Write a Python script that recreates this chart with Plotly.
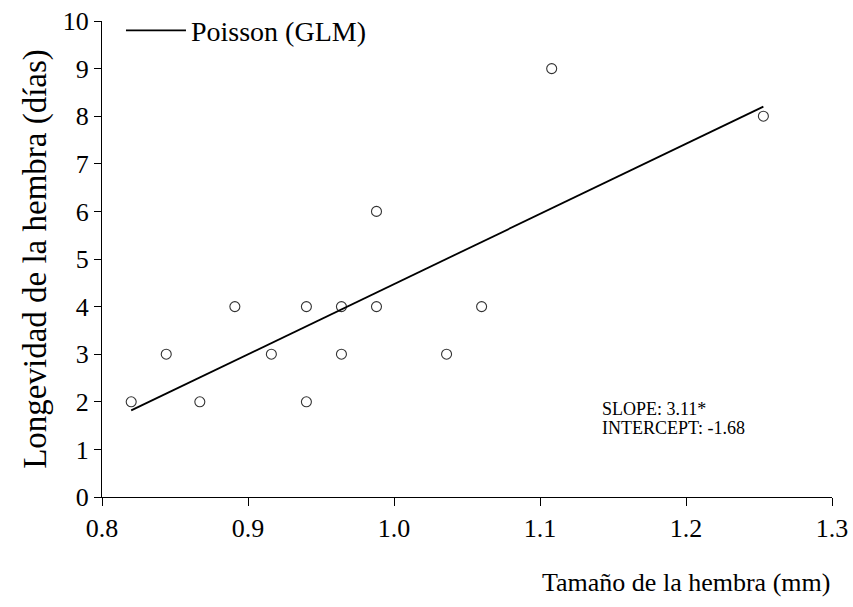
import plotly.graph_objects as go

# Data
size_mm = [0.820, 0.844, 0.867, 0.891, 0.916, 0.940, 0.940, 0.964, 0.964,
           0.988, 0.988, 1.036, 1.060, 1.108, 1.253]
longevity_days = [2, 3, 2, 4, 3, 4, 2, 4, 3, 6, 4, 3, 4, 9, 8]

fit_x = [0.820, 1.253]
fit_y = [1.82, 8.20]

x_ticks = [0.8, 0.9, 1.0, 1.1, 1.2, 1.3]
x_tick_labels = ["0.8", "0.9", "1.0", "1.1", "1.2", "1.3"]
y_ticks = list(range(0, 11))

FONT = "Liberation Serif"

fig = go.Figure()
fig.add_trace(go.Scatter(
    x=size_mm, y=longevity_days, mode="markers",
    marker=dict(symbol="circle-open", size=10, color="#333333", line=dict(width=1.1)),
    showlegend=False,
))
fig.add_trace(go.Scatter(
    x=fit_x, y=fit_y, mode="lines", name="Poisson (GLM)",
    line=dict(color="black", width=1.8),
))

fig.update_layout(
    width=853, height=607,
    margin=dict(l=102, r=21, t=21, b=110, autoexpand=False),
    paper_bgcolor="white", plot_bgcolor="white",
    font=dict(family=FONT, color="black", size=26),
    showlegend=True,
    legend=dict(x=0.026, y=1.032, xanchor="left", yanchor="top",
                bgcolor="rgba(0,0,0,0)", font=dict(size=28, family=FONT),
                itemwidth=60, tracegroupgap=0),
    xaxis=dict(range=[0.8, 1.3], tickvals=x_ticks, ticktext=x_tick_labels,
               showline=True, linecolor="black", linewidth=1.2,
               ticks="outside", ticklen=8, tickcolor="black", tickwidth=1.2,
               showgrid=False, zeroline=False, tickfont=dict(size=26, family=FONT),
               ticklabeloverflow="allow"),
    yaxis=dict(range=[0, 10], tickvals=y_ticks,
               showline=True, linecolor="black", linewidth=1.2,
               ticks="outside", ticklen=7, tickcolor="black", tickwidth=1.2,
               showgrid=False, zeroline=False, tickfont=dict(size=26, family=FONT),
               title=dict(text="Longevidad de la hembra (días)",
                          font=dict(size=33, family=FONT), standoff=6)),
    annotations=[
        dict(text="Tamaño de la hembra (mm)", xref="paper", yref="paper",
             x=1.0, y=-0.18, xanchor="right", yanchor="middle",
             showarrow=False, font=dict(size=26, family=FONT)),
        dict(text="SLOPE: 3.11*", xref="paper", yref="paper",
             x=0.682, y=0.185, xanchor="left", yanchor="middle", align="left",
             showarrow=False, font=dict(size=18, family=FONT)),
        dict(text="INTERCEPT: -1.68", xref="paper", yref="paper",
             x=0.682, y=0.145, xanchor="left", yanchor="middle", align="left",
             showarrow=False, font=dict(size=18, family=FONT)),
    ],
)

fig.write_html("out.html")
